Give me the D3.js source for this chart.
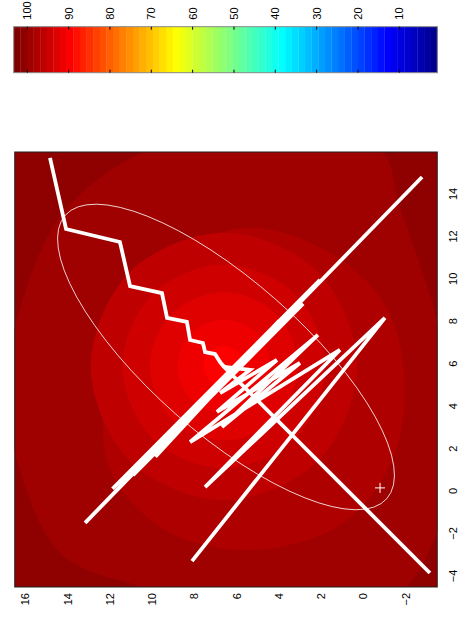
<!DOCTYPE html>
<html><head><meta charset="utf-8">
<script src="https://cdn.jsdelivr.net/npm/d3@7"></script>
<style>
body{margin:0;background:#fff}
svg{display:block}
text{font-family:"Liberation Sans",Arial,Helvetica,sans-serif;font-size:11px;fill:#000}
</style>
</head><body>
<svg id="chart" width="459" height="619"></svg>
<script>
// ---- data ----
const xTicks = [-4, -2, 0, 2, 4, 6, 8, 10, 12, 14];
const yTicks = [-2, 0, 2, 4, 6, 8, 10, 12, 14, 16];
const cTicks = [10, 20, 30, 40, 50, 60, 70, 80, 90, 100];
const xDomain = [-4.5, 16];
const yDomain = [-3.5, 16.5];
const cDomain = [0.81, 103.29];

// surface value outside all rings, then nested rings (value + boundary in data units)
const outerValue = 100.9;
const ringValues = [99.3, 97.7, 96.1, 94.5, 92.9, 91.3, 89.7, 60];
const ringShapes = [
  [[7.61,16.53],[12.94,14.36],[16.0,10.43],[17.27,4.8],[16.09,-0.79],[13.41,-1.73],[8.08,-3.49],
   [2.9,-4.48],[-1.96,-3.49],[-5.11,-1.26],[-4.5,3.33],[-5.21,6.88],[-4.5,10.43],[-2.9,14.36],
   [1.96,16.53],[4.78,16.96]],
  [[12.42,5.84],[11.38,1.81],[8.79,-1.02],[5.02,-1.97],[1.25,-1.26],[-1.58,1.1],[-2.76,5.36],
   [-1.81,9.39],[1.01,11.99],[4.31,12.23],[7.38,11.14],[10.53,9.39]],
  [[12.2,6.6],[10.35,11.05],[5.9,12.9],[1.45,11.05],[-0.4,6.6],[1.45,2.15],[5.9,0.3],[10.35,2.15]],
  [[10.7,6.6],[9.29,9.99],[5.9,11.4],[2.51,9.99],[1.1,6.6],[2.51,3.21],[5.9,1.8],[9.29,3.21]],
  [[9.4,6.6],[8.37,9.07],[5.9,10.1],[3.43,9.07],[2.4,6.6],[3.43,4.13],[5.9,3.1],[8.37,4.13]],
  [[8.1,6.6],[7.46,8.16],[5.9,8.8],[4.34,8.16],[3.7,6.6],[4.34,5.04],[5.9,4.4],[7.46,5.04]],
  [[6.85,6.6],[6.57,7.27],[5.9,7.55],[5.23,7.27],[4.95,6.6],[5.23,5.93],[5.9,5.65],[6.57,5.93]],
  [[6.0,6.6],[5.97,6.67],[5.9,6.7],[5.83,6.67],[5.8,6.6],[5.83,6.53],[5.9,6.5],[5.97,6.53]]
];

// descent paths
const pathStair = [[15.72,14.83],[12.37,14.07],[11.76,11.52],[9.68,11.04],[9.35,9.53],[8.18,9.29],
  [7.99,8.35],[7.14,8.20],[7.0,7.59],[6.57,7.49],[6.48,7.02],[6.1,6.78],[5.87,6.59]];
const pathBounce = [[14.82,-2.78],[-1.48,13.17],[9.97,2.05],[0.13,11.87],[8.85,2.85],[0.77,10.90],
  [8.04,3.99],[1.64,9.84],[7.16,4.72],[2.87,9.13],[6.27,5.44],[3.78,8.11],[5.66,6.11],[4.46,7.50],
  [5.04,6.79]];
const pathZigzag = [[-3.28,8.11],[8.18,-1.02],[0.21,7.49],[6.67,1.11],[2.33,8.2],
  [7.38,2.15],[3.04,6.69],[6.06,3.0],[3.75,6.93],[6.2,4.09],[4.64,6.78],[5.73,5.36],[5.87,6.59]];
const pathValley = [[-3.84,-3.15],[5.87,6.59]];

// covariance ellipse: centre, semi-axes, orientation (degrees from x axis)
const ellipseCentre = [6.34, 6.5];
const ellipseAxes = [10.1, 3.6];
const ellipseAngle = 48.6;
const marker = [0.17, -0.79];

// ---- jet colormap (64 entries) ----
function jet(m) {
  const n = Math.ceil(m / 4);
  const u = [];
  for (let i = 1; i <= n; i++) u.push(i / n);
  for (let i = 1; i < n; i++) u.push(1);
  for (let i = n; i >= 1; i--) u.push(i / n);
  const g0 = Math.ceil(n / 2) - (m % 4 === 1 ? 1 : 0);
  const J = Array.from({length: m}, () => [0, 0, 0]);
  u.forEach((val, k) => {
    const g = g0 + k + 1, r = g + n, b = g - n;
    if (r >= 1 && r <= m) J[r - 1][0] = val;
    if (g >= 1 && g <= m) J[g - 1][1] = val;
    if (b >= 1 && b <= m) J[b - 1][2] = val;
  });
  return J.map(c => d3.rgb(c[0] * 255, c[1] * 255, c[2] * 255).formatHex());
}
const cmap = jet(64);
const colorOf = v => {
  let i = Math.floor((v - cDomain[0]) / (cDomain[1] - cDomain[0]) * 64);
  return cmap[Math.max(0, Math.min(63, i))];
};

// ---- layout: figure drawn upright, then turned a quarter turn ----
const svg = d3.select("#chart");
const root = svg.append("g").attr("transform", "translate(0,619) rotate(-90)");

const x = d3.scaleLinear(xDomain, [32, 467]);
const y = d3.scaleLinear(yDomain, [437.3, 14.7]);

root.append("clipPath").attr("id", "plotclip")
  .append("rect").attr("x", 32).attr("y", 14.7).attr("width", 435).attr("height", 422.6);

const plot = root.append("g").attr("clip-path", "url(#plotclip)");
plot.append("rect").attr("x", 32).attr("y", 14.7).attr("width", 435).attr("height", 422.6)
  .attr("fill", colorOf(outerValue));

const ringLine = d3.line().x(d => x(d[0])).y(d => y(d[1])).curve(d3.curveCatmullRomClosed);
plot.selectAll("path.ring").data(ringShapes).join("path")
  .attr("class", "ring")
  .attr("d", ringLine)
  .attr("fill", (d, i) => colorOf(ringValues[i]));

// ellipse
const ex = x(ellipseCentre[0]), ey = y(ellipseCentre[1]);
plot.append("ellipse")
  .attr("cx", ex).attr("cy", ey)
  .attr("rx", x(ellipseCentre[0] + ellipseAxes[0]) - ex)
  .attr("ry", y(ellipseCentre[1]) - y(ellipseCentre[1] + ellipseAxes[1]))
  .attr("transform", `rotate(${-ellipseAngle},${ex},${ey})`)
  .attr("fill", "none").attr("stroke", "#fff").attr("stroke-width", 0.9).attr("stroke-opacity", 0.85);

const trail = d3.line().x(d => x(d[0])).y(d => y(d[1]));
[pathStair, pathBounce, pathZigzag, pathValley].forEach(p => {
  plot.append("path").attr("d", trail(p))
    .attr("fill", "none").attr("stroke", "#fff").attr("stroke-width", 3.8)
    .attr("stroke-linejoin", "miter").attr("stroke-linecap", "butt");
});

// plus marker
const mx = x(marker[0]), my = y(marker[1]);
plot.append("path").attr("d", `M${mx - 5},${my}H${mx + 5}M${mx},${my - 5}V${my + 5}`)
  .attr("stroke", "#fff").attr("stroke-width", 1);

// frame
root.append("rect").attr("x", 32).attr("y", 14.7).attr("width", 435).attr("height", 422.6)
  .attr("fill", "none").attr("stroke", "#222").attr("stroke-width", 1);

// axes
const xAxis = root.append("g").attr("transform", "translate(0,437.3)")
  .call(d3.axisBottom(x).tickValues(xTicks).tickSize(0).tickPadding(12).tickFormat(d3.format("d")));
xAxis.select(".domain").remove();
const yAxis = root.append("g").attr("transform", "translate(32,0)")
  .call(d3.axisLeft(y).tickValues(yTicks).tickSize(0).tickPadding(6).tickFormat(d3.format("d")));
yAxis.select(".domain").remove();

// colorbar
const cb = root.append("g");
const c = d3.scaleLinear(cDomain, [437.3, 13.7]);
const step = (cDomain[1] - cDomain[0]) / 64;
cb.selectAll("rect.band").data(cmap).join("rect")
  .attr("class", "band")
  .attr("x", 546.3).attr("width", 46)
  .attr("y", (d, i) => c(cDomain[0] + (i + 1) * step))
  .attr("height", (d, i) => c(cDomain[0] + i * step) - c(cDomain[0] + (i + 1) * step) + 0.3)
  .attr("fill", d => d);
cb.append("rect").attr("x", 546.3).attr("y", 13.7).attr("width", 46).attr("height", 423.6)
  .attr("fill", "none").attr("stroke", "#888").attr("stroke-width", 1);
const cAxis = cb.append("g").attr("transform", "translate(592.3,0)")
  .call(d3.axisRight(c).tickValues(cTicks).tickSize(0).tickPadding(7).tickFormat(d3.format("d")));
cAxis.select(".domain").remove();
root.selectAll(".tick text").attr("fill", "#000").style("font-size", "11px")
  .style("font-family", '"Liberation Sans",Arial,sans-serif');
cb.selectAll("line.tl").data(cTicks).join("line").attr("class", "tl")
  .attr("x1", 592.3).attr("x2", 589.3).attr("y1", d => c(d)).attr("y2", d => c(d))
  .attr("stroke", "#000");
cb.selectAll("line.tr").data(cTicks).join("line").attr("class", "tr")
  .attr("x1", 546.3).attr("x2", 549.3).attr("y1", d => c(d)).attr("y2", d => c(d))
  .attr("stroke", "#000");
</script>
</body></html>
